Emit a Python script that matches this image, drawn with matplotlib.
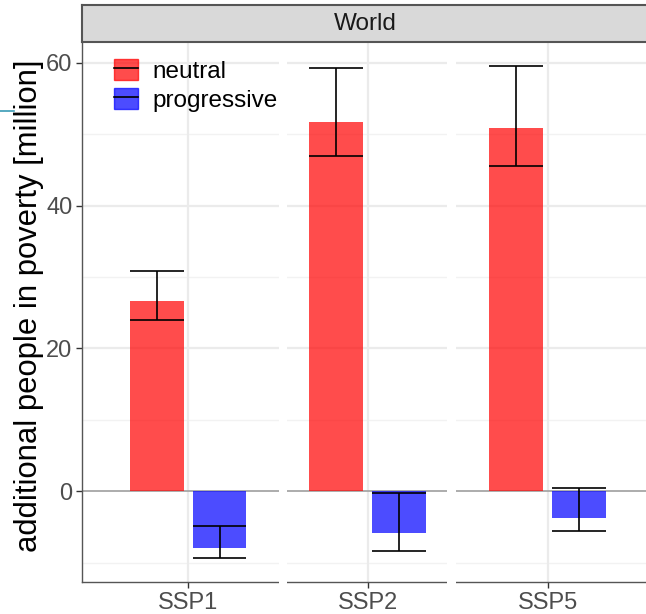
import numpy as np
import matplotlib
matplotlib.use('Agg')
import matplotlib.pyplot as plt
from matplotlib.patches import Patch
from matplotlib.lines import Line2D

scenarios = ['SSP1', 'SSP2', 'SSP5']
neutral = [26.6, 51.7, 50.8]
neutral_lo = [24.0, 46.9, 45.5]
neutral_hi = [30.9, 59.2, 59.6]
progressive = [-7.9, -5.8, -3.7]
progressive_lo = [-9.4, -8.3, -5.5]
progressive_hi = [-4.8, -0.3, 0.5]
series_names = ['neutral', 'progressive']
series_colors = ['red', 'blue']

plt.rcParams['font.family'] = ['Liberation Sans', 'DejaVu Sans']

W, H = 646, 614
fig = plt.figure(figsize=(W / 100, H / 100), dpi=100)

left, right, top, bottom = 82, 655.5, 42, 582
ax = fig.add_axes([left / W, (H - bottom) / H, (right - left) / W, (bottom - top) / H])
strip = fig.add_axes([left / W, (H - top) / H, (right - left) / W, 37 / H])

x = np.arange(1, len(scenarios) + 1)
bw = 0.3
off = 0.175

# grid
for y in [-10, 10, 30, 50]:
    ax.axhline(y, color='#F2F2F2', lw=1.0, zorder=0)
for y in [20, 40, 60]:
    ax.axhline(y, color='#EBEBEB', lw=1.6, zorder=0)
for xi in x:
    ax.axvline(xi, color='#EBEBEB', lw=1.6, zorder=0)
ax.axhline(0, color='#A6A6A6', lw=1.3, zorder=1)

# gaps in the panel
for a, b in [(1.503, 1.553), (2.443, 2.49)]:
    ax.axvspan(a, b, ymin=-0.01, ymax=1, color='white', lw=0, zorder=3, clip_on=False)

vals = [neutral, progressive]
los = [neutral_lo, progressive_lo]
his = [neutral_hi, progressive_hi]
for i, (name, col) in enumerate(zip(series_names, series_colors)):
    xs = x + (-off if i == 0 else off)
    ax.bar(xs, vals[i], width=bw, color=col, alpha=0.7, lw=0, zorder=4)
    ax.vlines(xs, los[i], his[i], color='black', lw=1.2, zorder=5)
    ax.hlines(los[i], xs - bw / 2, xs + bw / 2, color='black', lw=1.2, zorder=5)
    ax.hlines(his[i], xs - bw / 2, xs + bw / 2, color='black', lw=1.2, zorder=5)

ax.set_xlim(0.41, 3.6)
ax.set_ylim(-12.7, 62.9)
ax.set_xticks(x)
ax.set_xticklabels(scenarios)
ax.set_yticks([0, 20, 40, 60])
ax.tick_params(axis='both', colors='#333333', labelcolor='#4D4D4D',
               labelsize=17, length=4, width=1, pad=3)
for s in ['top', 'right']:
    ax.spines[s].set_visible(False)
for s in ['left', 'bottom']:
    ax.spines[s].set_color('#555555')
    ax.spines[s].set_linewidth(1.0)

ax.set_ylabel('additional people in poverty [million]', fontsize=22.3, color='black')
ax.yaxis.set_label_coords(-0.066, 0.512)

handles = [(Patch(facecolor=c, alpha=0.7, edgecolor=c), Line2D([], [], color='black', lw=1.2))
           for c in series_colors]
ax.legend(handles, series_names, loc='upper left', bbox_to_anchor=(0.038, 0.987),
          frameon=False, fontsize=17.5, handlelength=1.0, handleheight=0.95,
          handletextpad=0.6, labelspacing=0.22, borderaxespad=0)

strip.set_facecolor('#D9D9D9')
strip.set_xticks([])
strip.set_yticks([])
for s in strip.spines.values():
    s.set_color('#555555')
    s.set_linewidth(1.5)
strip.text((365 - left) / (right - left), 0.48, 'World', ha='center', va='center',
           fontsize=17.5, color='#1A1A1A', transform=strip.transAxes)

fig.add_artist(Line2D([0, 14 / W], [(H - 111) / H, (H - 111) / H],
                      color='#3A9BB5', lw=1.2, transform=fig.transFigure))

fig.savefig('out.png', dpi=100)
plt.close(fig)
